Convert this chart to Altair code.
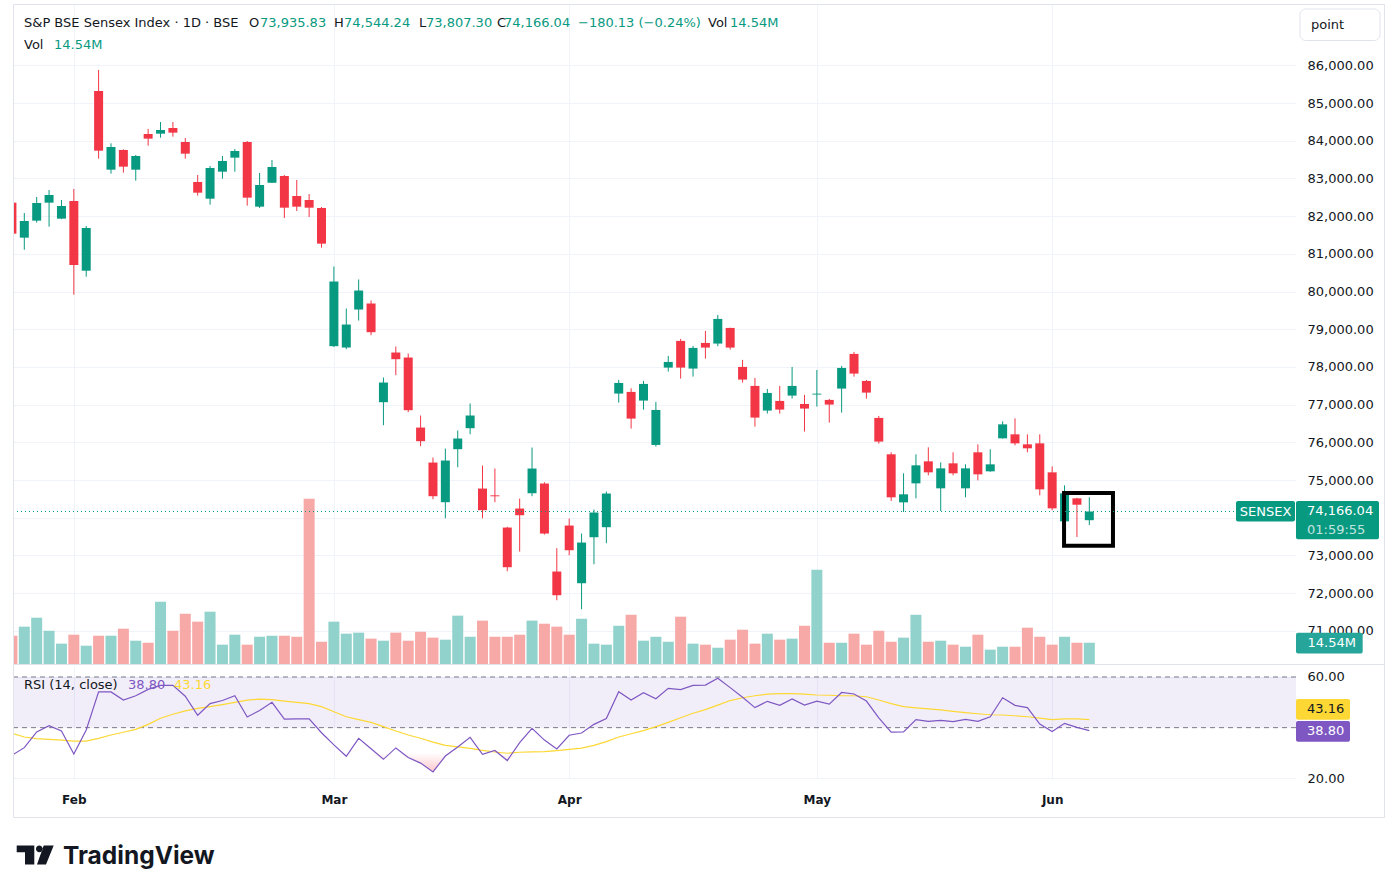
import altair as alt
import pandas as pd

# ---------------- daily bars (points), oldest first ----------------
opens = [82357, 81429, 81880, 82357, 81933, 82401, 80553, 85319, 83232, 83754,
         83232, 84179, 84187, 84338, 83966, 82905, 82463, 83179, 83551, 83966,
         82251, 82888, 83065, 82534, 82428, 82216, 78551, 78515, 79523, 79683,
         77065, 78383, 78250, 76393, 75465, 74413, 75819, 76376, 74775, 74595,
         73741, 74245, 74651, 74908, 72574, 73794, 72264, 73484, 73750, 77294,
         77338, 77108, 75932, 77983, 78691, 77957, 78637, 78620, 79035, 78001,
         77497, 76843, 77099, 77240, 77019, 77268, 77126, 77426, 78346, 77629,
         76648, 75683, 74409, 74913, 75497, 74781, 75444, 74781, 75736, 75232,
         76107, 76213, 75948, 75974, 75205, 73905, 74515, 73935.83]
highs = [82420, 82083, 82507, 82693, 82428, 82720, 81738, 85876, 83931, 83772,
         83622, 84311, 84497, 84497, 84072, 83091, 83330, 83595, 83781, 83993,
         83144, 83489, 83091, 82958, 82587, 82242, 80664, 79550, 80319, 79762,
         77720, 78542, 78356, 76712, 75598, 75836, 76314, 77030, 75385, 75306,
         73760, 74510, 75863, 74943, 73193, 73979, 73582, 74218, 74696, 77656,
         77435, 77629, 77072, 78293, 78744, 78558, 78956, 79380, 79040, 78187,
         77709, 77417, 77497, 78001, 77258, 77921, 77152, 78027, 78399, 77656,
         76701, 75736, 75179, 75683, 75868, 75470, 75736, 75417, 75948, 75815,
         76558, 76637, 76213, 76213, 75364, 74860, 74530, 74544.24]
lows = [81470, 81110, 81827, 81720, 81920, 79917, 80394, 83524, 83126, 83153,
        82941, 83869, 84081, 84108, 83524, 82543, 82304, 82994, 83179, 82278,
        82216, 82880, 81950, 82136, 81977, 81163, 78530, 78471, 79232, 78843,
        76455, 77782, 76800, 75898, 74492, 73988, 75341, 76216, 73988, 74413,
        72583, 73104, 74572, 73555, 71813, 73007, 71574, 72768, 73325, 77055,
        76365, 76869, 75888, 77877, 77691, 77744, 78222, 78549, 78461, 77585,
        76418, 76763, 76763, 77161, 76286, 76949, 76524, 76789, 77744, 77161,
        75967, 74445, 74153, 74515, 75126, 74179, 75126, 74542, 74993, 75220,
        76100, 75921, 75736, 74595, 74197, 73835, 73490, 73807.30]
closes = [81535, 81871, 82348, 82560, 82269, 80704, 81685, 83736, 83834, 83312,
          83595, 84055, 84285, 84214, 83657, 82622, 83277, 83462, 83728, 82490,
          82826, 83303, 82224, 82251, 82224, 81270, 80266, 79125, 80027, 78922,
          77587, 78206, 76853, 76031, 74572, 75518, 76102, 76712, 74201, 74570,
          72689, 74068, 75306, 73582, 71946, 73139, 73343, 74139, 74643, 77576,
          76630, 77550, 76860, 78133, 77983, 78505, 78514, 79274, 78514, 77665,
          76657, 77311, 76869, 77497, 76896, 77292, 77002, 77974, 77824, 77320,
          76020, 74542, 74622, 75391, 75205, 75311, 75179, 75311, 75152, 75417,
          76478, 75974, 75842, 74754, 74250, 74648, 74346.17, 74166.04]
# volume, millions
volumes = [19.3, 25.5, 31.6, 22.7, 13.9, 20.0, 12.5, 19.3, 19.3, 24.1,
           15.9, 14.5, 42.5, 22.7, 34.3, 28.9, 35.7, 13.2, 20.0, 13.2,
           18.6, 19.3, 19.3, 18.6, 112.8, 15.2, 28.9, 20.7, 21.4, 17.3,
           15.9, 21.4, 15.9, 22.0, 18.0, 16.6, 33.0, 18.6, 29.6, 18.6,
           18.6, 20.0, 29.6, 27.5, 25.5, 20.0, 30.9, 13.9, 13.2, 26.1,
           33.6, 15.9, 18.6, 15.2, 32.3, 13.9, 13.2, 11.1, 16.6, 23.4,
           13.9, 20.7, 16.6, 17.3, 26.1, 64.4, 14.5, 14.5, 20.7, 13.2,
           22.7, 15.2, 18.0, 33.6, 15.2, 15.9, 13.2, 11.8, 20.0, 9.8,
           11.8, 11.8, 24.8, 18.6, 13.2, 18.6, 14.5, 14.54]
# RSI(14, close) and its moving average
rsi14 = [29.1, 32.1, 38.3, 40.8, 38.7, 29.6, 39.1, 54.1, 54.1, 50.9,
         52.6, 55.1, 56.7, 56.7, 52.4, 44.9, 49.5, 50.7, 52.6, 44.2,
         46.8, 50.0, 43.4, 43.5, 43.5, 38.0, 33.2, 28.7, 35.8, 31.7,
         27.5, 32.0, 28.2, 26.0, 22.5, 28.8, 32.4, 36.2, 29.5, 31.0,
         27.0, 34.1, 39.7, 35.1, 31.6, 37.0, 37.9, 41.3, 43.6, 54.2,
         50.9, 53.8, 51.4, 55.5, 55.0, 56.7, 56.8, 59.5, 55.8, 52.0,
         47.9, 50.4, 48.8, 51.3, 48.9, 50.5, 49.3, 53.9, 53.3, 50.5,
         43.9, 38.2, 38.3, 43.2, 42.5, 42.9, 42.4, 43.3, 42.5, 44.3,
         51.8, 48.8, 47.9, 41.4, 38.5, 41.7, 40.1, 38.80]
rsi_ma = [37.8, 36.3, 35.7, 35.4, 35.1, 34.7, 34.7, 35.8, 37.1, 38.2,
          39.3, 41.3, 43.7, 45.3, 46.6, 47.6, 48.3, 49.1, 50.0, 50.9,
          51.3, 51.1, 50.5, 50.0, 49.5, 48.3, 46.3, 44.3, 43.2, 42.1,
          40.4, 38.7, 37.1, 35.8, 34.3, 33.0, 32.4, 31.8, 31.0, 30.4,
          29.9, 30.3, 30.4, 30.5, 30.9, 31.4, 31.9, 33.0, 34.5, 36.3,
          37.6, 38.8, 40.4, 42.1, 43.9, 45.7, 47.1, 48.9, 50.7, 51.8,
          52.6, 53.2, 53.4, 53.4, 53.2, 52.9, 52.8, 52.6, 52.6, 52.2,
          50.9, 49.5, 48.3, 47.8, 47.4, 47.0, 46.4, 45.9, 45.5, 45.1,
          45.0, 44.7, 44.3, 43.8, 43.2, 43.5, 43.5, 43.16]

# first trading day of each month (bar index) and its label
month_ticks = [5, 26, 45, 65, 84]
month_names = ["Feb", "Mar", "Apr", "May", "Jun"]
price_ticks = [71000, 72000, 73000, 74000, 75000, 76000, 77000, 78000,
               79000, 80000, 81000, 82000, 83000, 84000, 85000, 86000]
rsi_ticks = [20, 60]
rsi_band = [40, 60]
# highlight box around the latest sessions (bar index span, price span)
focus_bars = [84.96, 88.91]
focus_prices = [73260, 74657]

# ---------------- styling ----------------
FONT = "DejaVu Sans"
TEXT = "#131722"
GREEN = "#089981"
RED = "#F23645"
VOL_UP = "#92D2CC"
VOL_DN = "#F7A9A7"
GRID = "#F0F3FA"
BORDER = "#E0E3EB"
PURPLE = "#7E57C2"
YELLOW = "#FDD835"

W = 1283
H_PRICE = 660
H_RSI = 113

bars = pd.DataFrame({
    "i": list(range(len(closes))),
    "open": opens, "high": highs, "low": lows, "close": closes,
    "vol": volumes, "rsi": rsi14, "ma": rsi_ma,
})

# bar index axis: no automatic padding so that every pane lines up
x_scale = alt.Scale(domain=[0.087, 103.69], nice=False, zero=False, padding=0)
price_scale = alt.Scale(domain=[70122, 87626], nice=False, zero=False)
vol_scale = alt.Scale(domain=[0, 450.5], nice=False)
rsi_scale = alt.Scale(domain=[19.73, 64.34], nice=False, zero=False)

up = "datum.close >= datum.open"
candle_color = alt.condition(up, alt.value(GREEN), alt.value(RED))
volume_color = alt.condition(up, alt.value(VOL_UP), alt.value(VOL_DN))

x_top = alt.X("i:Q", scale=x_scale, title=None,
              axis=alt.Axis(values=month_ticks, labels=False, ticks=False,
                            domain=False, grid=True, gridColor=GRID))

label_expr = " : ".join(f"datum.value == {t} ? '{n}'"
                        for t, n in zip(month_ticks, month_names)) + " : ''"
x_bottom = alt.X("i:Q", scale=x_scale, title=None,
                 axis=alt.Axis(values=month_ticks, labelExpr=label_expr,
                               labelFont=FONT, labelFontSize=12,
                               labelFontWeight="bold", labelColor=TEXT,
                               labelPadding=15, ticks=False, domain=False,
                               grid=True, gridColor=GRID))

price_axis = alt.Axis(orient="right", values=price_ticks, format=",.2f",
                      labelFont=FONT, labelFontSize=13, labelColor=TEXT,
                      labelPadding=11, ticks=False, domain=False,
                      grid=True, gridColor=GRID, labelOverlap=False,
                      labelFlush=False)

base = alt.Chart(bars)

volume = base.mark_bar(size=11, clip=True).encode(
    x=x_top,
    y=alt.Y("vol:Q", scale=vol_scale, axis=None),
    color=volume_color,
)
wicks = base.mark_rule(strokeWidth=1, clip=True).encode(
    x=alt.X("i:Q", scale=x_scale),
    y=alt.Y("low:Q", scale=price_scale, axis=price_axis, title=None),
    y2="high:Q",
    color=candle_color,
)
bodies = base.mark_bar(size=9, clip=True).encode(
    x=alt.X("i:Q", scale=x_scale),
    y=alt.Y("open:Q", scale=price_scale, axis=None),
    y2="close:Q",
    color=candle_color,
)

focus = alt.Chart(pd.DataFrame({
    "x0": [focus_bars[0]], "x1": [focus_bars[1]],
    "p0": [focus_prices[0]], "p1": [focus_prices[1]],
})).mark_rect(filled=False, color="#000000", strokeWidth=4).encode(
    x=alt.X("x0:Q", scale=x_scale), x2="x1:Q",
    y=alt.Y("p0:Q", scale=price_scale, axis=None), y2="p1:Q",
)

last = pd.DataFrame({"p": [closes[-1]], "v": [volumes[-1]]})
last_chart = alt.Chart(last)
price_line = last_chart.mark_rule(strokeDash=[1, 3], color=GREEN, strokeWidth=1).encode(
    y=alt.Y("p:Q", scale=price_scale, axis=None),
    x=alt.value(0), x2=alt.value(1223),
)
sym_box = last_chart.mark_rect(color=GREEN, yOffset=-10.6, y2Offset=10.1, cornerRadius=2).encode(
    y=alt.Y("p:Q", scale=price_scale, axis=None), y2="p:Q",
    x=alt.value(1223), x2=alt.value(1282),
)
sym_txt = last_chart.mark_text(text="SENSEX", font=FONT, fontSize=13, color="white",
                               align="center", baseline="middle").encode(
    y=alt.Y("p:Q", scale=price_scale, axis=None), x=alt.value(1252.5),
)
price_box = last_chart.mark_rect(color=GREEN, yOffset=-10.6, y2Offset=27.7, cornerRadius=2).encode(
    y=alt.Y("p:Q", scale=price_scale, axis=None), y2="p:Q",
    x=alt.value(1283), x2=alt.value(1366),
)
price_txt = last_chart.mark_text(font=FONT, fontSize=13, color="white",
                                 align="left", baseline="middle", dy=-0.5).encode(
    y=alt.Y("p:Q", scale=price_scale, axis=None), x=alt.value(1294),
    text=alt.Text("p:Q", format=",.2f"),
)
timer_txt = last_chart.mark_text(text="01:59:55", font=FONT, fontSize=13, color="white",
                                 opacity=0.75, align="left", baseline="middle", dy=18).encode(
    y=alt.Y("p:Q", scale=price_scale, axis=None), x=alt.value(1294),
)
vol_box = last_chart.mark_rect(color="#26A69A", yOffset=-10, y2Offset=10.7, cornerRadius=2).encode(
    y=alt.Y("v:Q", scale=vol_scale, axis=None), y2="v:Q",
    x=alt.value(1283), x2=alt.value(1349.7),
)
vol_txt = last_chart.mark_text(text="14.54M", font=FONT, fontSize=13, color="white",
                               align="left", baseline="middle").encode(
    y=alt.Y("v:Q", scale=vol_scale, axis=None), x=alt.value(1294.5),
)

# legend line at the top of the price pane
header = pd.DataFrame({
    "t": ["S&P BSE Sensex Index · 1D · BSE", "O", "73,935.83", "H", "74,544.24",
          "L", "73,807.30", "C", "74,166.04", "\u2212180.13 (\u22120.24%)", "Vol", "14.54M",
          "Vol", "14.54M"],
    "px": [11, 236, 247, 321, 331, 406, 413, 484, 491, 565, 695, 717, 11, 41],
    "py": [19, 19, 19, 19, 19, 19, 19, 19, 19, 19, 19, 19, 41, 41],
    "c": [TEXT, TEXT, GREEN, TEXT, GREEN, TEXT, GREEN, TEXT, GREEN, GREEN, TEXT, GREEN,
          TEXT, GREEN],
})
header_txt = alt.Chart(header).mark_text(font=FONT, fontSize=13, align="left",
                                         baseline="middle").encode(
    x=alt.X("px:Q", scale=None), y=alt.Y("py:Q", scale=None),
    text="t:N", color=alt.Color("c:N", scale=None),
)

button = alt.Chart(last).mark_rect(filled=False, color=BORDER, cornerRadius=6, strokeWidth=1).encode(
    x=alt.value(1287), x2=alt.value(1367), y=alt.value(5), y2=alt.value(36.5),
)
button_txt = alt.Chart(last).mark_text(text="point", font=FONT, fontSize=13, color=TEXT,
                                       align="left", baseline="middle").encode(
    x=alt.value(1298), y=alt.value(20.5),
)
separator = alt.Chart(last).mark_rule(color=BORDER, strokeWidth=1).encode(
    x=alt.value(0), x2=alt.value(1371), y=alt.value(660.5),
)

price_panel = alt.layer(
    volume, wicks, bodies, focus, price_line, sym_box, sym_txt, price_box, price_txt,
    timer_txt, vol_box, vol_txt, header_txt, button, button_txt, separator,
).resolve_scale(y="independent").properties(width=W, height=H_PRICE)

# ---------------- RSI pane ----------------
band_df = pd.DataFrame({"lo": [rsi_band[0]], "hi": [rsi_band[1]]})
rsi_axis = alt.Axis(orient="right", values=rsi_ticks, format=".2f",
                    labelFont=FONT, labelFontSize=13, labelColor=TEXT,
                    labelPadding=11, ticks=False, domain=False, grid=True,
                    gridColor=GRID, labelOverlap=False, labelFlush=False)

band = alt.Chart(band_df).mark_rect(color=PURPLE, opacity=0.1).encode(
    y=alt.Y("hi:Q", scale=rsi_scale, axis=rsi_axis, title=None), y2="lo:Q",
    x=alt.value(0), x2=alt.value(W),
)
levels = alt.Chart(pd.DataFrame({"lv": rsi_band})).mark_rule(
    strokeDash=[5, 4], color="#787B86", strokeWidth=1).encode(
    y=alt.Y("lv:Q", scale=rsi_scale), x=alt.value(0), x2=alt.value(W),
)
oversold = base.transform_calculate(lo="min(datum.rsi, 30)").mark_area(
    clip=True,
    color=alt.Gradient(gradient="linear",
                       stops=[alt.GradientStop(color="rgba(242,54,69,0)", offset=0),
                              alt.GradientStop(color="rgba(242,54,69,0.28)", offset=1)],
                       x1=0, x2=0, y1=0, y2=1),
).encode(
    x=alt.X("i:Q", scale=x_scale),
    y=alt.Y("lo:Q", scale=rsi_scale),
    y2=alt.datum(30),
)
ma_line = base.mark_line(color=YELLOW, strokeWidth=1.2, clip=True).encode(
    x=x_bottom, y=alt.Y("ma:Q", scale=rsi_scale),
)
rsi_line = base.mark_line(color=PURPLE, strokeWidth=1.2, clip=True).encode(
    x=alt.X("i:Q", scale=x_scale), y=alt.Y("rsi:Q", scale=rsi_scale),
)

rsi_last = pd.DataFrame({"r": [rsi14[-1]], "m": [rsi_ma[-1]]})
rl = alt.Chart(rsi_last)
ma_box = rl.mark_rect(color=YELLOW, yOffset=-20.7, y2Offset=0, cornerRadius=2).encode(
    y=alt.Y("m:Q", scale=rsi_scale), y2="m:Q", x=alt.value(1283), x2=alt.value(1337),
)
ma_txt = rl.mark_text(font=FONT, fontSize=13, color=TEXT, align="left",
                      baseline="middle", dy=-10.4).encode(
    y=alt.Y("m:Q", scale=rsi_scale), x=alt.value(1294),
    text=alt.Text("m:Q", format=".2f"),
)
rsi_box = rl.mark_rect(color=PURPLE, yOffset=-9.7, y2Offset=11, cornerRadius=2).encode(
    y=alt.Y("r:Q", scale=rsi_scale), y2="r:Q", x=alt.value(1283), x2=alt.value(1337),
)
rsi_txt = rl.mark_text(font=FONT, fontSize=13, color="white", align="left",
                       baseline="middle", dy=0.6).encode(
    y=alt.Y("r:Q", scale=rsi_scale), x=alt.value(1294),
    text=alt.Text("r:Q", format=".2f"),
)

rsi_head = pd.DataFrame({
    "t": ["RSI (14, close)", f"{rsi14[-1]:.2f}", f"{rsi_ma[-1]:.2f}"],
    "px": [11, 115, 161],
    "py": [19, 19, 19],
    "c": [TEXT, PURPLE, YELLOW],
})
rsi_head_txt = alt.Chart(rsi_head).mark_text(font=FONT, fontSize=13, align="left",
                                             baseline="middle").encode(
    x=alt.X("px:Q", scale=None), y=alt.Y("py:Q", scale=None),
    text="t:N", color=alt.Color("c:N", scale=None),
)

frame = alt.Chart(last).mark_rect(filled=False, color=BORDER, strokeWidth=1).encode(
    x=alt.value(0.5), x2=alt.value(1371.5), y=alt.value(-661.5), y2=alt.value(151.5),
)

logo_path = ("M-0.963,-0.5L-0.037,-0.5L-0.037,0.5L-0.526,0.5L-0.526,-0.147L-0.963,-0.147Z"
             "M0.458,-0.5L0.984,-0.5L0.579,0.5L0.105,0.5Z"
             "M0.052,-0.321A0.174,0.174 0 1 0 0.4,-0.321A0.174,0.174 0 1 0 0.052,-0.321Z")
logo_icon = alt.Chart(last).mark_point(shape=logo_path, size=1444, filled=True,
                                       color=TEXT, opacity=1, strokeWidth=0).encode(
    x=alt.value(22), y=alt.value(189),
)
logo_txt = alt.Chart(last).mark_text(text="TradingView", font="Inter", fontSize=24.5,
                                     fontWeight=700, color=TEXT, align="left",
                                     baseline="alphabetic").encode(
    x=alt.value(50), y=alt.value(198),
)

rsi_panel = alt.layer(
    band, levels, oversold, ma_line, rsi_line, ma_box, ma_txt, rsi_box, rsi_txt,
    rsi_head_txt, frame, logo_icon, logo_txt,
).properties(width=W, height=H_RSI)

chart = alt.vconcat(price_panel, rsi_panel, spacing=2, bounds="flush").properties(
    padding={"left": 12, "top": 3, "right": 5, "bottom": 5},
    background="white",
).configure_view(stroke="transparent")

chart.save("out.html", embed_options={"renderer": "svg", "actions": False})
